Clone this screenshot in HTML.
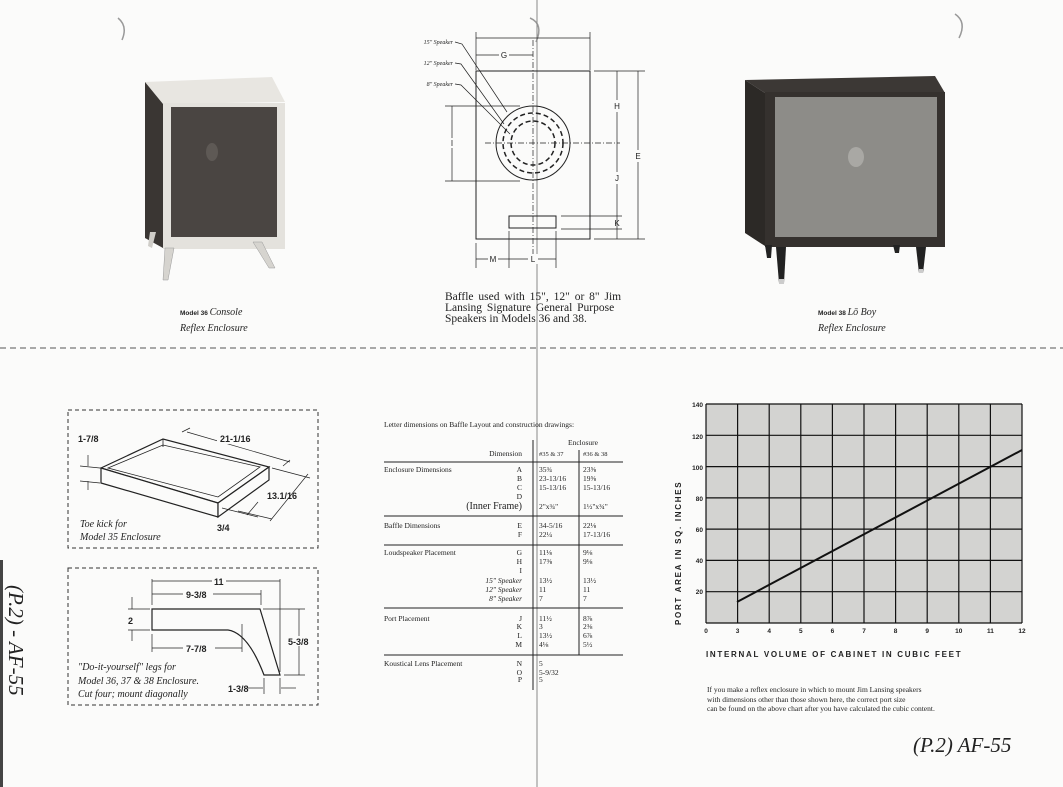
<!DOCTYPE html>
<html><head><meta charset="utf-8"><style>
html,body{margin:0;padding:0;background:#fbfbfa;}
svg{display:block;}
.s{font-family:"Liberation Serif",serif;fill:#222;}
.a{font-family:"Liberation Sans",sans-serif;fill:#222;}
.i{font-family:"Liberation Serif",serif;font-style:italic;fill:#222;}
</style></head><body>
<svg width="1063" height="787" viewBox="0 0 1063 787" xmlns="http://www.w3.org/2000/svg">
<rect width="1063" height="787" fill="#fbfbfa"/>
<rect x="0" y="560" width="3" height="227" fill="#444"/>
<path d="M118 18 q10 8 4 22" fill="none" stroke="#999" stroke-width="1.5"/>
<path d="M530 18 q14 6 6 24" fill="none" stroke="#999" stroke-width="1.5"/>
<path d="M955 14 q12 8 4 24" fill="none" stroke="#999" stroke-width="1.5"/>
<line x1="537" y1="0" x2="537" y2="787" stroke="#888" stroke-width="1"/>
<line x1="0" y1="348" x2="1063" y2="348" stroke="#555" stroke-width="1" stroke-dasharray="6,4"/>

<!-- Console cabinet -->
<polygon points="145,82 272,77 285,102 163,104" fill="#e8e6e1"/>
<polygon points="145,82 163,104 163,248 145,238" fill="#3a3633"/>
<rect x="163" y="103" width="122" height="146" fill="#e4e2dd"/>
<rect x="171" y="107" width="106" height="130" fill="#4a4542"/>
<ellipse cx="212" cy="152" rx="6" ry="9" fill="#5e5955"/>
<polygon points="165,248 174,248 168,280 163,280" fill="#d6d4cf" stroke="#999" stroke-width=".5"/>
<polygon points="253,242 262,242 275,268 269,268" fill="#d6d4cf" stroke="#999" stroke-width=".5"/>
<polygon points="150,232 156,232 152,248 148,246" fill="#cfcdc8"/>
<text x="180" y="315" class="a" font-size="6.5" font-weight="bold">Model 36 <tspan class="i" font-size="10" font-weight="normal">Console</tspan></text>
<text x="180" y="331" class="i" font-size="10">Reflex Enclosure</text>

<!-- Lo Boy -->
<polygon points="745,80 935,76 945,93 765,93" fill="#3c3835"/>
<polygon points="745,80 765,93 765,246 745,233" fill="#2c2926"/>
<rect x="765" y="92" width="180" height="155" fill="#35312e"/>
<rect x="775" y="97" width="162" height="140" fill="#8d8c88"/>
<ellipse cx="856" cy="157" rx="8" ry="10" fill="#a9a8a4"/>
<polygon points="776,247 786,247 784,283 779,283" fill="#222"/>
<polygon points="916,247 926,247 923,273 919,273" fill="#222"/>
<polygon points="765,245 772,245 771,258 767,258" fill="#222"/>
<polygon points="893,245 900,245 899,253 895,253" fill="#222"/>
<rect x="779" y="279" width="5" height="5" fill="#ccc"/><rect x="919" y="269" width="4" height="4" fill="#ccc"/>
<text x="818" y="315" class="a" font-size="6.5" font-weight="bold">Model 38 <tspan class="i" font-size="10" font-weight="normal">Lō Boy</tspan></text>
<text x="818" y="331" class="i" font-size="10">Reflex Enclosure</text>

<!-- Baffle diagram -->
<g stroke="#222" fill="none" stroke-width="1">
<rect x="476" y="71" width="114" height="168"/>
<circle cx="533" cy="143" r="37"/>
<circle cx="533" cy="143" r="30" stroke-dasharray="5,3" stroke-width="1.5"/>
<circle cx="533" cy="143" r="22" stroke-dasharray="5,3" stroke-width="1.5"/>
<line x1="485" y1="143" x2="620" y2="143" stroke-dasharray="6,2,1,2" stroke-width=".7"/>
<line x1="533" y1="40" x2="533" y2="262" stroke-dasharray="6,2,1,2" stroke-width=".7"/>
<rect x="509" y="216" width="47" height="12"/>
<line x1="476" y1="32" x2="476" y2="70" stroke-width=".7"/><line x1="590" y1="32" x2="590" y2="70" stroke-width=".7"/>
<line x1="476" y1="38" x2="590" y2="38" stroke-width=".7"/>
<line x1="476" y1="55" x2="533" y2="55" stroke-width=".7"/>
<line x1="594" y1="71" x2="645" y2="71" stroke-width=".7"/><line x1="594" y1="239" x2="645" y2="239" stroke-width=".7"/>
<line x1="638" y1="71" x2="638" y2="239" stroke-width=".7"/>
<line x1="617" y1="71" x2="617" y2="239" stroke-width=".7"/>
<line x1="561" y1="216" x2="622" y2="216" stroke-width=".7"/><line x1="561" y1="229" x2="622" y2="229" stroke-width=".7"/>
<line x1="445" y1="106" x2="520" y2="106" stroke-width=".7"/><line x1="445" y1="181" x2="520" y2="181" stroke-width=".7"/>
<line x1="452" y1="106" x2="452" y2="181" stroke-width=".7"/>
<line x1="476" y1="243" x2="476" y2="268" stroke-width=".7"/><line x1="509" y1="231" x2="509" y2="268" stroke-width=".7"/><line x1="556" y1="231" x2="556" y2="268" stroke-width=".7"/>
<line x1="476" y1="259" x2="556" y2="259" stroke-width=".7"/>
<path d="M455 42 L462 44 L507 112" stroke-width=".7"/>
<path d="M455 63 L461 64 L504 124" stroke-width=".7"/>
<path d="M455 84 L461 85 L510 134" stroke-width=".7"/>
</g>
<g class="a" font-size="8" text-anchor="middle">
<rect x="499" y="50" width="10" height="10" fill="#fbfbfa"/><text x="504" y="58">G</text>
<rect x="612" y="100" width="10" height="12" fill="#fbfbfa"/><text x="617" y="109">H</text>
<rect x="612" y="172" width="10" height="12" fill="#fbfbfa"/><text x="617" y="181">J</text>
<text x="617" y="226">K</text>
<rect x="633" y="150" width="10" height="12" fill="#fbfbfa"/><text x="638" y="159">E</text>
<rect x="447" y="138" width="10" height="10" fill="#fbfbfa"/><text x="452" y="146">I</text>
<rect x="488" y="254" width="10" height="10" fill="#fbfbfa"/><text x="493" y="262">M</text>
<rect x="528" y="254" width="10" height="10" fill="#fbfbfa"/><text x="533" y="262">L</text>
</g>
<g class="i" font-size="6" text-anchor="end">
<text x="453" y="44">15" Speaker</text><text x="453" y="65">12" Speaker</text><text x="453" y="86">8" Speaker</text>
</g>
<g class="s" font-size="11.5" word-spacing="2">
<text x="445" y="300">Baffle used with 15", 12" or 8" Jim</text>
<text x="445" y="311">Lansing Signature General Purpose</text>
<text x="445" y="322" word-spacing="0">Speakers in Models 36 and 38.</text>
</g>

<!-- Table -->
<g class="s" font-size="7.5">
<text x="384" y="427">Letter dimensions on Baffle Layout and construction drawings:</text>
<text x="583" y="445" text-anchor="middle">Enclosure</text>
<text x="522" y="456" text-anchor="end">Dimension</text>
<text x="539" y="456" font-size="6.5">#35 &amp; 37</text><text x="583" y="456" font-size="6.5">#36 &amp; 38</text>
<text x="384" y="472">Enclosure Dimensions</text>
<g text-anchor="end"><text x="522" y="472">A</text><text x="522" y="481">B</text><text x="522" y="490">C</text><text x="522" y="499">D</text>
<text x="522" y="509" font-size="10">(Inner Frame)</text>
<text x="522" y="528">E</text><text x="522" y="537">F</text>
<text x="522" y="555">G</text><text x="522" y="564">H</text><text x="522" y="573">I</text>
<text x="522" y="583" class="i">15" Speaker</text><text x="522" y="592" class="i">12" Speaker</text><text x="522" y="601" class="i">8" Speaker</text>
<text x="522" y="621">J</text><text x="522" y="629">K</text><text x="522" y="638">L</text><text x="522" y="647">M</text>
<text x="522" y="666">N</text><text x="522" y="675">O</text><text x="522" y="682">P</text></g>
<text x="384" y="528">Baffle Dimensions</text>
<text x="384" y="555">Loudspeaker Placement</text>
<text x="384" y="621">Port Placement</text>
<text x="384" y="666">Koustical Lens Placement</text>
<g><text x="539" y="472">35¾</text><text x="539" y="481">23-13/16</text><text x="539" y="490">15-13/16</text><text x="539" y="509">2"x¾"</text>
<text x="539" y="528">34-5/16</text><text x="539" y="537">22¼</text>
<text x="539" y="555">11⅛</text><text x="539" y="564">17⅜</text><text x="539" y="583">13½</text><text x="539" y="592">11</text><text x="539" y="601">7</text>
<text x="539" y="621">11½</text><text x="539" y="629">3</text><text x="539" y="638">13½</text><text x="539" y="647">4⅛</text>
<text x="539" y="666">5</text><text x="539" y="675">5-9/32</text><text x="539" y="682">5</text>
<text x="583" y="472">23⅝</text><text x="583" y="481">19⅝</text><text x="583" y="490">15-13/16</text><text x="583" y="509">1½"x¾"</text>
<text x="583" y="528">22⅛</text><text x="583" y="537">17-13/16</text>
<text x="583" y="555">9⅛</text><text x="583" y="564">9⅛</text><text x="583" y="583">13½</text><text x="583" y="592">11</text><text x="583" y="601">7</text>
<text x="583" y="621">8⅞</text><text x="583" y="629">2⅜</text><text x="583" y="638">6⅞</text><text x="583" y="647">5½</text></g>
</g>
<g stroke="#222" stroke-width="1">
<line x1="384" y1="462" x2="623" y2="462"/><line x1="384" y1="516" x2="623" y2="516"/>
<line x1="384" y1="545" x2="623" y2="545"/><line x1="384" y1="608" x2="623" y2="608"/>
<line x1="384" y1="655" x2="623" y2="655"/>
<line x1="533" y1="440" x2="533" y2="690"/><line x1="579" y1="450" x2="579" y2="655"/>
</g>

<!-- Chart -->
<rect x="706" y="404" width="316" height="219" fill="#d3d3d1"/>
<g stroke="#111" stroke-width="1.2">
<line x1="706" y1="404" x2="1022" y2="404"/><line x1="706" y1="435.3" x2="1022" y2="435.3"/>
<line x1="706" y1="466.6" x2="1022" y2="466.6"/><line x1="706" y1="497.9" x2="1022" y2="497.9"/>
<line x1="706" y1="529.1" x2="1022" y2="529.1"/><line x1="706" y1="560.4" x2="1022" y2="560.4"/>
<line x1="706" y1="591.7" x2="1022" y2="591.7"/><line x1="706" y1="623" x2="1022" y2="623"/>
<line x1="706" y1="404" x2="706" y2="623"/><line x1="737.6" y1="404" x2="737.6" y2="623"/>
<line x1="769.2" y1="404" x2="769.2" y2="623"/><line x1="800.8" y1="404" x2="800.8" y2="623"/>
<line x1="832.4" y1="404" x2="832.4" y2="623"/><line x1="864" y1="404" x2="864" y2="623"/>
<line x1="895.6" y1="404" x2="895.6" y2="623"/><line x1="927.2" y1="404" x2="927.2" y2="623"/>
<line x1="958.8" y1="404" x2="958.8" y2="623"/><line x1="990.4" y1="404" x2="990.4" y2="623"/>
<line x1="1022" y1="404" x2="1022" y2="623"/>
</g>
<line x1="737" y1="602" x2="1022" y2="450" stroke="#111" stroke-width="2"/>
<g class="a" font-size="6.5" font-weight="bold" text-anchor="end">
<text x="703" y="407">140</text><text x="703" y="439">120</text><text x="703" y="470">100</text><text x="703" y="501">80</text>
<text x="703" y="532">60</text><text x="703" y="563">40</text><text x="703" y="594">20</text>
</g>
<g class="a" font-size="6.5" font-weight="bold" text-anchor="middle">
<text x="706" y="633">0</text><text x="737.6" y="633">3</text><text x="769.2" y="633">4</text><text x="800.8" y="633">5</text>
<text x="832.4" y="633">6</text><text x="864" y="633">7</text><text x="895.6" y="633">8</text><text x="927.2" y="633">9</text>
<text x="958.8" y="633">10</text><text x="990.4" y="633">11</text><text x="1022" y="633">12</text>
</g>
<text x="706" y="657" class="a" font-size="8" font-weight="bold" letter-spacing="1.7">INTERNAL VOLUME OF CABINET IN CUBIC FEET</text>
<text transform="translate(681,625) rotate(-90)" class="a" font-size="8" font-weight="bold" letter-spacing="1.7">PORT AREA IN SQ. INCHES</text>
<g class="s" font-size="7.5">
<text x="707" y="692">If you make a reflex enclosure in which to mount Jim Lansing speakers</text>
<text x="707" y="702">with dimensions other than those shown here, the correct port size</text>
<text x="707" y="711">can be found on the above chart after you have calculated the cubic content.</text>
</g>

<!-- Toe kick box -->
<rect x="68" y="410" width="250" height="138" fill="none" stroke="#333" stroke-dasharray="4,3"/>
<g stroke="#222" fill="none" stroke-width="1.2">
<polygon points="101,468 163,439 269,467 218,503"/>
<polygon points="108,468 163,445 260,467 218,497" stroke-width=".8"/>
<polygon points="101,468 218,503 218,517 101,483" fill="#fbfbfa"/>
<polygon points="218,503 269,467 269,480 218,517" fill="#fbfbfa"/>
<line x1="163" y1="439" x2="163" y2="447" stroke-width=".8"/>
</g>
<g stroke="#222" stroke-width=".7" fill="none">
<line x1="80" y1="466" x2="100" y2="468"/><line x1="80" y1="481" x2="100" y2="483"/>
<line x1="88" y1="455" x2="88" y2="466"/><line x1="88" y1="481" x2="88" y2="490"/>
<line x1="187" y1="432" x2="290" y2="462"/><line x1="182" y1="432" x2="190" y2="428"/><line x1="283" y1="466" x2="290" y2="460"/>
<line x1="272" y1="468" x2="310" y2="478"/><line x1="308" y1="474" x2="270" y2="521"/><line x1="238" y1="511" x2="272" y2="519"/>
<line x1="222" y1="508" x2="258" y2="517"/><line x1="258" y1="502" x2="247" y2="515"/>
</g>
<g class="a" font-size="9" font-weight="bold" fill="#222">
<rect x="217" y="432" width="40" height="12" fill="#fbfbfa"/>
<text x="220" y="442">21-1/16</text><text x="78" y="442">1-7/8</text><text x="267" y="499">13.1/16</text><text x="217" y="531">3/4</text>
</g>
<text x="80" y="527" class="i" font-size="10">Toe kick for</text>
<text x="80" y="540" class="i" font-size="10">Model 35 Enclosure</text>

<!-- Legs box -->
<rect x="68" y="568" width="250" height="137" fill="none" stroke="#333" stroke-dasharray="4,3"/>
<g stroke="#222" fill="none" stroke-width="1.2">
<path d="M152 609 L260 609 L280 675 L264 675 Q248 633 228 630 L152 630 Z"/>
</g>
<g stroke="#222" stroke-width=".7" fill="none">
<line x1="152" y1="579" x2="152" y2="605"/><line x1="280" y1="579" x2="280" y2="672"/><line x1="261" y1="590" x2="261" y2="605"/>
<line x1="152" y1="581" x2="280" y2="581"/><line x1="152" y1="594" x2="261" y2="594"/>
<line x1="128" y1="609" x2="150" y2="609"/><line x1="128" y1="630" x2="150" y2="630"/>
<line x1="132" y1="597" x2="132" y2="609"/><line x1="132" y1="630" x2="132" y2="641"/>
<line x1="152" y1="634" x2="152" y2="652"/><line x1="242" y1="624" x2="242" y2="652"/><line x1="152" y1="648" x2="242" y2="648"/>
<line x1="263" y1="609" x2="305" y2="609"/><line x1="284" y1="675" x2="305" y2="675"/><line x1="299" y1="609" x2="299" y2="675"/>
<line x1="264" y1="678" x2="264" y2="694"/><line x1="280" y1="678" x2="280" y2="694"/>
<line x1="248" y1="688" x2="263" y2="688"/><line x1="281" y1="688" x2="296" y2="688"/>
</g>
<g class="a" font-size="9" font-weight="bold">
<rect x="212" y="576" width="14" height="10" fill="#fbfbfa"/><text x="214" y="585">11</text>
<rect x="183" y="589" width="30" height="10" fill="#fbfbfa"/><text x="186" y="598">9-3/8</text>
<text x="128" y="624">2</text>
<rect x="183" y="643" width="32" height="10" fill="#fbfbfa"/><text x="186" y="652">7-7/8</text>
<rect x="287" y="636" width="28" height="10" fill="#fbfbfa"/><text x="288" y="645">5-3/8</text>
<text x="228" y="692">1-3/8</text>
</g>
<g class="i" font-size="10">
<text x="78" y="670">"Do-it-yourself" legs for</text>
<text x="78" y="684">Model 36, 37 &amp; 38 Enclosure.</text>
<text x="78" y="697">Cut four; mount diagonally</text>
</g>

<text x="913" y="752" class="i" font-size="21" fill="#111">(P.2)  AF-55</text>
<text transform="translate(9,585) rotate(90)" class="i" font-size="21" fill="#111">(P.2) - AF-55</text>
</svg>
</body></html>
